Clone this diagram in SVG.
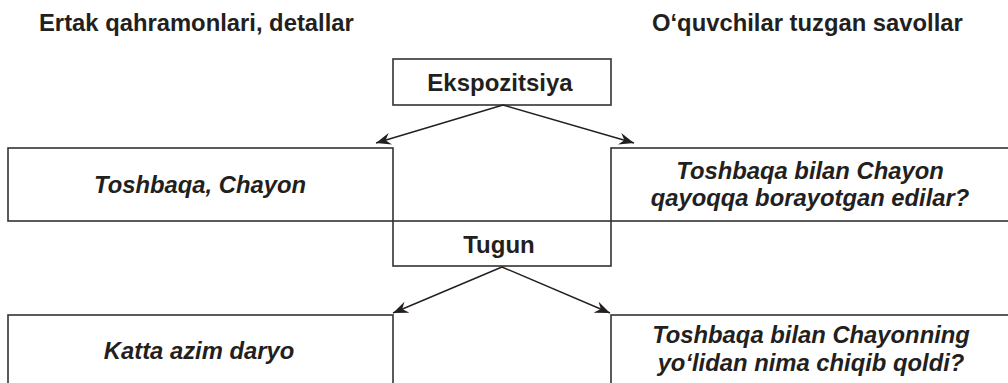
<svg xmlns="http://www.w3.org/2000/svg" width="1008" height="383" viewBox="0 0 1008 383">
<style>
.box{fill:#fff;stroke:#333;stroke-width:1.6}
.head{font-family:"Liberation Sans",Arial,sans-serif;font-weight:bold;font-size:23.8px;fill:#231f20}
.lbl{font-family:"Liberation Sans",Arial,sans-serif;font-weight:bold;font-size:24px;fill:#231f20;text-anchor:middle}
.it{font-family:"Liberation Sans",Arial,sans-serif;font-weight:bold;font-style:italic;font-size:23.8px;fill:#231f20;text-anchor:middle}
.con{stroke:#231f20;stroke-width:1.4;fill:none;marker-end:url(#ah)}
</style>
<defs>
<marker id="ah" markerUnits="userSpaceOnUse" markerWidth="16" markerHeight="12" refX="15" refY="6" orient="auto">
<path d="M0,0 L15,6 L0,12 L5,6 z" fill="#231f20"/>
</marker>
</defs>
<rect width="1008" height="383" fill="#fff"/>
<text class="head" x="39" y="31">Ertak qahramonlari, detallar</text>
<text class="head" x="652" y="31">O‘quvchilar tuzgan savollar</text>
<g id="n-ekspozitsiya">
<rect class="box" x="393" y="59" width="218" height="46"/>
<text class="lbl" x="500" y="91">Ekspozitsiya</text>
</g>
<g id="n-toshbaqa-chayon">
<rect class="box" x="8" y="148" width="385" height="73"/>
<text class="it" x="200" y="193">Toshbaqa, Chayon</text>
</g>
<g id="n-savol1">
<rect class="box" x="611" y="148" width="402" height="73"/>
<text class="it" x="810" y="179">Toshbaqa bilan Chayon</text>
<text class="it" x="810" y="206">qayoqqa borayotgan edilar?</text>
</g>
<g id="n-tugun">
<rect class="box" x="393" y="221" width="218" height="45"/>
<text class="lbl" x="499" y="253">Tugun</text>
</g>
<g id="n-daryo">
<rect class="box" x="8" y="315" width="385" height="80"/>
<text class="it" x="199" y="359">Katta azim daryo</text>
</g>
<g id="n-savol2">
<rect class="box" x="611" y="315" width="402" height="80"/>
<text class="it" x="811" y="343">Toshbaqa bilan Chayonning</text>
<text class="it" x="811" y="371">yo‘lidan nima chiqib qoldi?</text>
</g>
<g id="connectors">
<line class="con" x1="503" y1="105" x2="376" y2="143"/>
<line class="con" x1="503" y1="105" x2="634" y2="143"/>
<line class="con" x1="502" y1="267" x2="393" y2="313"/>
<line class="con" x1="502" y1="267" x2="610" y2="313"/>
</g>
</svg>
